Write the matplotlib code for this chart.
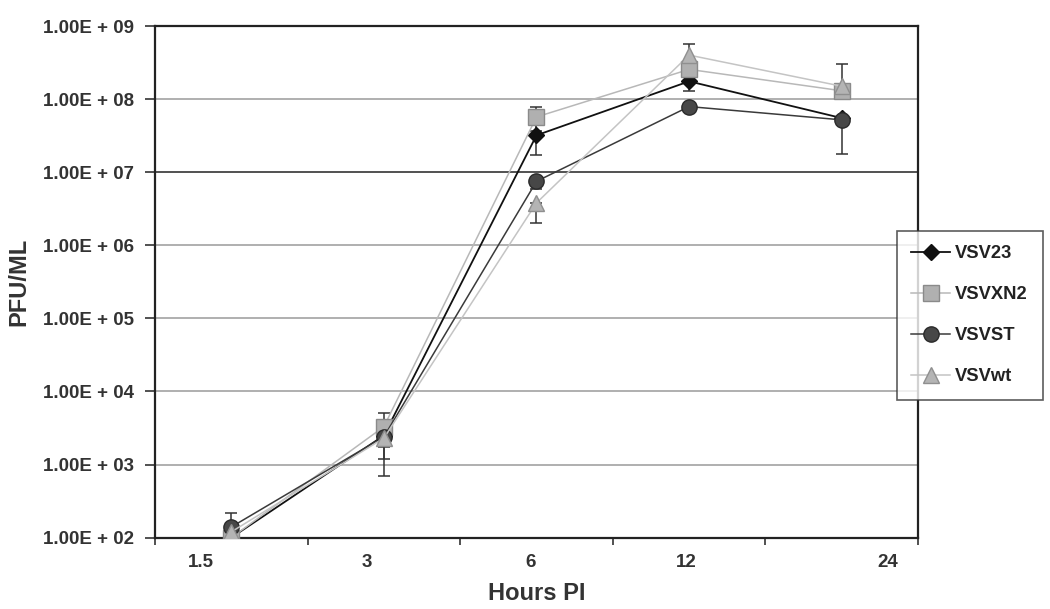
import numpy as np
import matplotlib
matplotlib.use("Agg")
import matplotlib.pyplot as plt
from matplotlib.ticker import FixedLocator, NullFormatter

plt.rcParams['font.family'] = ['Liberation Sans', 'DejaVu Sans']

# data
hours = ['1.5', '3', '6', '12', '24']
vsv23 = [1.0e2, 2.5e3, 3.2e7, 1.75e8, 5.5e7]
vsvxn2 = [1.0e2, 3.3e3, 5.7e7, 2.55e8, 1.3e8]
vsvst = [1.4e2, 2.4e3, 7.5e6, 7.9e7, 5.2e7]
vsvwt = [1.2e2, 2.3e3, 3.8e6, 4.0e8, 1.5e8]

# error bars (lower, upper)
vsv23_err = [[0, 1.3e3, 1.5e7, 4.5e7, 0], [0, 1.0e3, 1.5e7, 4.5e7, 0]]
vsvxn2_err = [[0, 0, 2.0e7, 0, 0], [0, 1.7e3, 2.1e7, 0, 0]]
vsvst_err = [[0, 1.7e3, 1.6e6, 0, 3.4e7], [0.8e2, 0, 0, 0, 0]]
vsvwt_err = [[0, 0.55e3, 1.8e6, 1.7e8, 0], [0, 0, 0, 1.7e8, 1.5e8]]

series = [
    ('VSV23', vsv23, vsv23_err, dict(color='#111111', marker='D', ms=8.5, mfc='#111111', mec='#111111', lw=1.3)),
    ('VSVXN2', vsvxn2, vsvxn2_err, dict(color='#b8b8b8', marker='s', ms=11, mfc='#b0b0b0', mec='#8a8a8a', lw=1.1)),
    ('VSVST', vsvst, vsvst_err, dict(color='#3a3a3a', marker='o', ms=11, mfc='#474747', mec='#2a2a2a', lw=1.1)),
    ('VSVwt', vsvwt, vsvwt_err, dict(color='#c4c4c4', marker='^', ms=12, mfc='#b4b4b4', mec='#8f8f8f', lw=1.1)),
]

fig = plt.figure(figsize=(10.5, 6.09), dpi=100)
ax = fig.add_axes([0.1476, 0.1171, 0.7267, 0.8402])

x = np.arange(len(hours))
for name, vals, err, st in series:
    ax.errorbar(x, vals, yerr=err, fmt='none', ecolor='#333333', elinewidth=1.1,
                capsize=4, capthick=1.1, zorder=2)
for name, vals, err, st in series:
    ax.plot(x, vals, label=name, zorder=3, **st)

ax.set_yscale('log')
ax.set_ylim(1e2, 1e9)
ax.set_xlim(-0.5, len(hours) - 0.5)

# y ticks and labels
decades = [1e2, 1e3, 1e4, 1e5, 1e6, 1e7, 1e8, 1e9]
ax.yaxis.set_major_locator(FixedLocator(decades))
ax.yaxis.set_minor_locator(FixedLocator([]))
ax.set_yticklabels(['1.00E + %02d' % int(np.log10(d)) for d in decades])
ax.tick_params(axis='y', which='major', length=7, width=1.2, color='#333333',
               labelsize=13.5, labelcolor='#333333', pad=8)
for lab in ax.get_yticklabels():
    lab.set_fontweight('bold')

# horizontal grid
ax.yaxis.grid(True, color='#9a9a9a', lw=1.1)
for d, gl in zip(decades, ax.yaxis.get_gridlines()):
    if d == 1e7:
        gl.set_color('#222222')
ax.set_axisbelow(True)

# x ticks: labels where the original had them, marks at category bounds
label_pos = [-0.2, 0.89, 1.96, 2.98, 4.3]
ax.xaxis.set_major_locator(FixedLocator(label_pos))
ax.set_xticklabels(hours)
ax.xaxis.set_minor_locator(FixedLocator(np.arange(-0.5, len(hours), 1.0)))
ax.xaxis.set_minor_formatter(NullFormatter())
ax.tick_params(axis='x', which='major', length=0, labelsize=13.5,
               labelcolor='#333333', pad=12)
ax.tick_params(axis='x', which='minor', length=5, width=1.2, color='#333333')
for lab in ax.get_xticklabels():
    lab.set_fontweight('bold')

for sp in ax.spines.values():
    sp.set_color('#222222')
    sp.set_linewidth(1.6)

ax.set_xlabel('Hours PI', fontsize=17, fontweight='bold', color='#333333', labelpad=8)
ax.set_ylabel('PFU/ML', fontsize=17, fontweight='bold', color='#333333', labelpad=9)

leg = ax.legend(loc='upper left', bbox_to_anchor=(0.854, 0.621),
                bbox_transform=fig.transFigure, fancybox=False, frameon=True,
                borderaxespad=0, labelspacing=1.3, handlelength=2.1,
                borderpad=0.8, handletextpad=0.3,
                prop={'weight': 'bold', 'size': 13.2})
leg.get_frame().set_edgecolor('#333333')
leg.get_frame().set_linewidth(1.2)
for t in leg.get_texts():
    t.set_color('#222222')

fig.savefig('out.png', dpi=100)
